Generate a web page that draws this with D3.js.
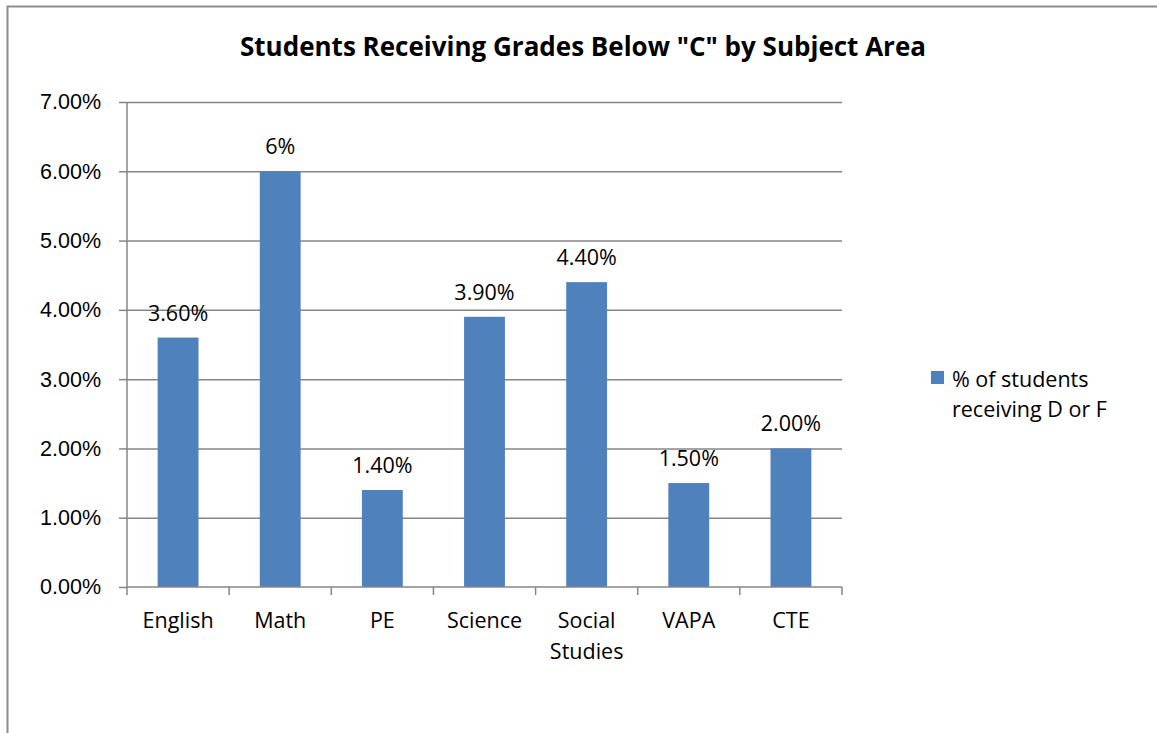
<!DOCTYPE html>
<html>
<head>
<meta charset="utf-8">
<script src="https://cdn.jsdelivr.net/npm/d3@7"></script>
<style>
  body { margin: 0; background: #fff; }
  svg { font-family: "Open Sans", Lato, sans-serif; }
  .tick text { font-size: 21.5px; fill: #000; }
  .domain, .tick line { stroke: #868686; stroke-width: 1.5; }
  .grid line { stroke: #868686; stroke-width: 1.5; }
  .grid .domain { display: none; }
</style>
</head>
<body>
<svg width="1157" height="733"></svg>
<script>
const categories = ["English", "Math", "PE", "Science", "Social Studies", "VAPA", "CTE"];
const values = [3.6, 6.0, 1.4, 3.9, 4.4, 1.5, 2.0];
const valueLabels = ["3.60%", "6%", "1.40%", "3.90%", "4.40%", "1.50%", "2.00%"];
const yTicks = [0, 1, 2, 3, 4, 5, 6, 7];
const seriesName = ["% of students", "receiving D or F"];

const svg = d3.select('svg');
const fontSize = 21.5;

// chart border (only left/top visible in the shot)
svg.append('path')
    .attr('d', 'M7.5,733 V6.5 H1157')
    .attr('fill', 'none')
    .attr('stroke', '#8c8c8c')
    .attr('stroke-width', 2);

const plotLeft = 127, plotRight = 842, plotTop = 102, plotBottom = 587;

const xScale = d3.scaleBand()
    .range([plotLeft, plotRight])
    .domain(categories)
    .paddingInner(0)
    .paddingOuter(0);

const yScale = d3.scaleLinear()
    .range([plotBottom, plotTop])
    .domain([0, 7]);

// gridlines
svg.append('g')
    .attr('class', 'grid')
    .attr('transform', `translate(${plotLeft}, 0)`)
    .call(d3.axisLeft(yScale)
        .tickValues(yTicks.filter(t => t > 0))
        .tickSize(-(plotRight - plotLeft))
        .tickFormat('')
    );

// y axis
svg.append('g')
    .attr('transform', `translate(${plotLeft}, 0)`)
    .call(d3.axisLeft(yScale)
        .tickValues(yTicks)
        .tickSize(8)
        .tickPadding(18)
        .tickFormat(d => d.toFixed(2) + '%'))
    .call(g => g.select('.domain').attr('d', `M0,${plotTop}V${plotBottom}`));

// bars
const barWidth = xScale.bandwidth() / 2.5;
svg.selectAll('.bar')
    .data(categories)
    .enter()
    .append('rect')
    .attr('class', 'bar')
    .attr('x', (c) => xScale(c) + (xScale.bandwidth() - barWidth) / 2)
    .attr('y', (c, i) => yScale(values[i]))
    .attr('width', barWidth)
    .attr('height', (c, i) => plotBottom - yScale(values[i]))
    .attr('fill', '#4F81BD');

// x axis with ticks at category boundaries
const xAxis = svg.append('g')
    .attr('transform', `translate(0, ${plotBottom})`);
xAxis.append('path')
    .attr('class', 'domain')
    .attr('d', `M${plotLeft},0H${plotRight}`);
xAxis.selectAll('.bound')
    .data(categories.concat(['end']))
    .enter()
    .append('line')
    .attr('class', 'bound')
    .attr('x1', (c, i) => i < categories.length ? xScale(c) : plotRight)
    .attr('x2', (c, i) => i < categories.length ? xScale(c) : plotRight)
    .attr('y1', 0).attr('y2', 8)
    .attr('stroke', '#868686').attr('stroke-width', 1.5);

xAxis.selectAll('.xlab')
    .data(categories)
    .enter()
    .append('text')
    .attr('class', 'xlab')
    .attr('text-anchor', 'middle')
    .attr('font-size', fontSize)
    .attr('x', (c) => xScale(c) + xScale.bandwidth() / 2)
    .attr('y', 41)
    .each(function (c) {
        const words = c.split(' ');
        d3.select(this).selectAll('tspan')
            .data(words)
            .enter()
            .append('tspan')
            .attr('x', xScale(c) + xScale.bandwidth() / 2)
            .attr('dy', (w, i) => i === 0 ? 0 : 31)
            .text(w => w);
    });

// value labels
svg.selectAll('.value')
    .data(categories)
    .enter()
    .append('text')
    .attr('class', 'value')
    .attr('text-anchor', 'middle')
    .attr('font-size', fontSize)
    .attr('x', (c) => xScale(c) + xScale.bandwidth() / 2)
    .attr('y', (c, i) => yScale(values[i]) - 17)
    .text((c, i) => valueLabels[i]);

// title
svg.append('text')
    .attr('x', 583)
    .attr('y', 56)
    .attr('text-anchor', 'middle')
    .attr('font-size', 26)
    .attr('font-weight', 'bold')
    .text('Students Receiving Grades Below "C" by Subject Area');

// legend
svg.append('rect')
    .attr('x', 931).attr('y', 371)
    .attr('width', 13).attr('height', 13)
    .attr('fill', '#4F81BD');
svg.append('text')
    .attr('x', 952)
    .attr('y', 387)
    .attr('font-size', fontSize)
    .selectAll('tspan')
    .data(seriesName)
    .enter()
    .append('tspan')
    .attr('x', 952)
    .attr('dy', (d, i) => i === 0 ? 0 : 30)
    .text(d => d);
</script>
</body>
</html>
